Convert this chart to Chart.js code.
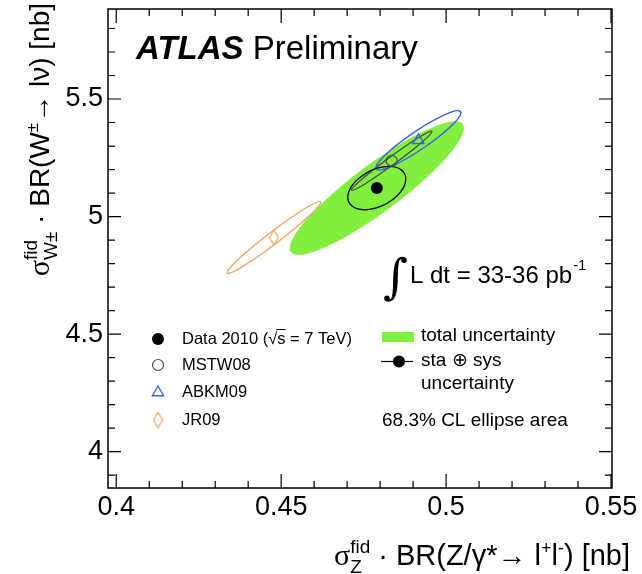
<!DOCTYPE html>
<html>
<head>
<meta charset="utf-8">
<script src="https://cdn.jsdelivr.net/npm/chart.js@4.4.1/dist/chart.umd.min.js"></script>
<style>
html,body{margin:0;padding:0;background:#fff;}
#wrap{width:642px;height:574px;}
</style>
</head>
<body>
<div id="wrap"><canvas id="chart" width="642" height="574"></canvas></div>
<script>
// values
const series=['Data 2010','MSTW08','ABKM09','JR09'];
const centreX=[0.479,0.4835,0.4916,0.4478];
const centreY=[5.121,5.237,5.324,4.911];
// 68.3% CL ellipses: half extent in x and y, correlation
const halfX=[0.0088,0.0122,0.0129,0.0142];
const halfY=[0.092,0.126,0.126,0.153];
const corr=[0.42,0.986,0.93,0.978];
// total uncertainty (data)
const totalHalf=[0.0264,0.284];
const totalCorr=0.9;

const xTicks=[0.40,0.45,0.50,0.55];
const yTicks=[4,4.5,5,5.5];

const colors=['#000000','#4d4d4d','#3a5cf2','#f0a15e'];
const green='#80ef3e';
const FONT='"Liberation Sans", Arial, Helvetica, sans-serif';

// tall open diamond like the ROOT marker
function diamond(col){
    const c=document.createElement('canvas');
    c.width=11;c.height=17;
    const g=c.getContext('2d');
    g.strokeStyle=col;g.lineWidth=1.2;
    g.beginPath();g.moveTo(5.5,1);g.lineTo(10,8.5);g.lineTo(5.5,16);g.lineTo(1,8.5);g.closePath();g.stroke();
    return c;
}
const jrMarker=diamond(colors[3]);

const markerOpts=[
    {pointStyle:'circle',radius:6,backgroundColor:'#000',borderColor:'#000',borderWidth:0},
    {pointStyle:'circle',radius:5.5,backgroundColor:'rgba(0,0,0,0)',borderColor:colors[1],borderWidth:1.2},
    {pointStyle:'triangle',radius:6.5,backgroundColor:'rgba(0,0,0,0)',borderColor:colors[2],borderWidth:1.3},
    {pointStyle:jrMarker,radius:6,backgroundColor:'rgba(0,0,0,0)',borderColor:colors[3],borderWidth:1.2}
];

// ellipse x=cx+hx*cos t, y=cy+hy*cos(t+d), rho=cos d, built in data units
function ellipsePath(ctx,xs,ys,cx,cy,hx,hy,rho){
    const px=xs.getPixelForValue(cx),py=ys.getPixelForValue(cy);
    const sx=xs.getPixelForValue(cx+hx)-px;
    const sy=ys.getPixelForValue(cy+hy)-py;
    const d=Math.acos(rho);
    ctx.save();
    ctx.translate(px,py);
    ctx.scale(sx,sy);
    ctx.beginPath();
    ctx.ellipse(0,0,Math.SQRT2*Math.cos(d/2),Math.SQRT2*Math.sin(d/2),Math.PI/4,0,Math.PI*2);
    ctx.restore();
}

const ellipses={
    id:'ellipses',
    beforeDatasetsDraw(chart){
        const ctx=chart.ctx,xs=chart.scales.x,ys=chart.scales.y;
        ellipsePath(ctx,xs,ys,centreX[0],centreY[0],totalHalf[0],totalHalf[1],totalCorr);
        ctx.fillStyle=green;ctx.fill();
        ctx.lineWidth=1.3;
        [3,1,2,0].forEach(i=>{
            ellipsePath(ctx,xs,ys,centreX[i],centreY[i],halfX[i],halfY[i],corr[i]);
            ctx.strokeStyle=colors[i];ctx.stroke();
        });
    }
};

// text with super/subscripts, returns width
function rich(ctx,parts,x,y,draw){
    let cx=x;
    parts.forEach(p=>{
        ctx.font=(p.style||'')+' '+p.size+'px '+(p.family||FONT);
        if(p.sup!==undefined){
            const w=Math.max(ctx.measureText(p.sup).width,ctx.measureText(p.sub).width);
            if(draw){ctx.fillText(p.sup,cx,y-p.up);ctx.fillText(p.sub,cx,y+p.down);}
            cx+=w;
        }else{
            if(draw)ctx.fillText(p.t,cx,y-(p.up||0));
            cx+=ctx.measureText(p.t).width;
        }
    });
    return cx-x;
}

const xTitle=[
    {t:'σ',size:30,family:'"Liberation Serif", serif'},
    {sup:'fid',sub:'Z',size:19,up:12,down:8},
    {t:' · BR(Z/γ*',size:29},
    {t:'→ l',size:29},
    {t:'+',size:18,up:11},
    {t:'l',size:29},
    {t:'-',size:18,up:11},
    {t:') [nb]',size:29}
];
const yTitle=[
    {t:'σ',size:30,family:'"Liberation Serif", serif'},
    {sup:'fid',sub:'W±',size:19,up:12,down:8},
    {t:' · BR(W',size:28},
    {t:'±',size:17,up:11},
    {t:'→ lν) [nb]',size:28}
];

const frame={
    id:'frame',
    afterDraw(chart){
        const ctx=chart.ctx,a=chart.chartArea,xs=chart.scales.x,ys=chart.scales.y;
        ctx.save();
        ctx.strokeStyle='#000';ctx.lineWidth=1.5;
        ctx.strokeRect(a.left,a.top,a.right-a.left,a.bottom-a.top);
        ctx.lineWidth=1.2;
        ctx.beginPath();
        for(let k=40;k<=55;k++){
            const v=k/100,px=xs.getPixelForValue(v),len=(k%5===0)?14:7;
            ctx.moveTo(px,a.bottom);ctx.lineTo(px,a.bottom-len);
            ctx.moveTo(px,a.top);ctx.lineTo(px,a.top+len);
        }
        for(let k=39;k<=58;k++){
            const v=k/10,py=ys.getPixelForValue(v),len=(k%5===0)?13:7;
            ctx.moveTo(a.left,py);ctx.lineTo(a.left+len,py);
            ctx.moveTo(a.right,py);ctx.lineTo(a.right-len,py);
        }
        ctx.stroke();

        ctx.fillStyle='#000';
        ctx.textBaseline='alphabetic';ctx.textAlign='left';
        // axis titles
        const wx=rich(ctx,xTitle,0,0,false);
        rich(ctx,xTitle,630-wx,565,true);
        const wy=rich(ctx,yTitle,0,0,false);
        ctx.save();
        ctx.translate(49,3+wy);ctx.rotate(-Math.PI/2);
        rich(ctx,yTitle,0,0,true);
        ctx.restore();

        // ATLAS label
        ctx.font='italic bold 33px '+FONT;
        ctx.fillText('ATLAS',136,59);
        const wa=ctx.measureText('ATLAS ').width;
        ctx.font='33px '+FONT;
        ctx.fillText('Preliminary',136+wa,59);

        // luminosity
        ctx.font='48px "DejaVu Serif", serif';
        ctx.fillText('∫',383,293);
        ctx.font='24px '+FONT;
        ctx.fillText('L dt = 33-36 pb',410,283);
        const wl=ctx.measureText('L dt = 33-36 pb').width;
        ctx.font='15px '+FONT;
        ctx.fillText('-1',410+wl+1,270);

        // legend
        const ly=[339,365,392.5,420];
        const Chelp=Chart.helpers;
        markerOpts.forEach((m,i)=>{
            ctx.fillStyle=m.backgroundColor;ctx.strokeStyle=m.borderColor;ctx.lineWidth=m.borderWidth||1;
            Chelp.drawPoint(ctx,{pointStyle:m.pointStyle,radius:m.radius,rotation:0,borderWidth:m.borderWidth},158,ly[i]);
        });
        ctx.fillStyle='#000';ctx.textBaseline='middle';
        ctx.font='16.5px '+FONT;
        let tx=182;
        ctx.fillText('Data 2010 (√',tx,ly[0]);
        tx+=ctx.measureText('Data 2010 (√').width;
        ctx.fillText('s',tx,ly[0]);
        const ws=ctx.measureText('s').width;
        ctx.lineWidth=1;ctx.strokeStyle='#000';
        ctx.beginPath();ctx.moveTo(tx-1,ly[0]-9.5);ctx.lineTo(tx+ws,ly[0]-9.5);ctx.stroke();
        tx+=ws;
        ctx.fillText(' = 7 TeV)',tx,ly[0]);
        series.slice(1).forEach((s,i)=>ctx.fillText(s,182,ly[i+1]));

        ctx.fillStyle=green;ctx.fillRect(382,332,32,10);
        ctx.strokeStyle='#000';ctx.lineWidth=1.2;
        ctx.beginPath();ctx.moveTo(381,361.5);ctx.lineTo(413,361.5);ctx.stroke();
        ctx.fillStyle='#000';
        ctx.beginPath();ctx.arc(399,361.5,6,0,Math.PI*2);ctx.fill();
        ctx.font='19px '+FONT;
        ctx.fillText('total uncertainty',421,336);
        ctx.fillText('sta ⊕ sys',421,361);
        ctx.fillText('uncertainty',421,384);
        ctx.fillText('68.3% CL ellipse area',382,421);
        ctx.restore();
    }
};

const tickFont={family:FONT,size:27};

new Chart(document.getElementById('chart'),{
    type:'scatter',
    data:{
        datasets:series.map((s,i)=>Object.assign({
            label:s,
            data:[{x:centreX[i],y:centreY[i]}]
        },markerOpts[i]))
    },
    options:{
        responsive:false,
        animation:false,
        layout:{padding:{top:9,right:30,left:0,bottom:0}},
        plugins:{legend:{display:false},tooltip:{enabled:false}},
        scales:{
            x:{
                type:'linear',min:0.3975,max:0.5503,
                grid:{display:false,drawTicks:false},border:{display:false},
                afterBuildTicks:s=>{s.ticks=xTicks.map(v=>({value:v}));},
                afterFit:s=>{s.height=86;s.paddingLeft=0;s.paddingRight=0;},
                ticks:{font:tickFont,color:'#000',padding:3,maxRotation:0,autoSkip:false,callback:v=>String(v)}
            },
            y:{
                type:'linear',min:3.845,max:5.883,
                grid:{display:false,drawTicks:false},border:{display:false},
                afterBuildTicks:s=>{s.ticks=yTicks.map(v=>({value:v}));},
                afterFit:s=>{s.width=108;s.paddingTop=0;s.paddingBottom=0;},
                ticks:{font:tickFont,color:'#000',padding:5,autoSkip:false,callback:v=>String(v)}
            }
        }
    },
    plugins:[ellipses,frame]
});
</script>
</body>
</html>
